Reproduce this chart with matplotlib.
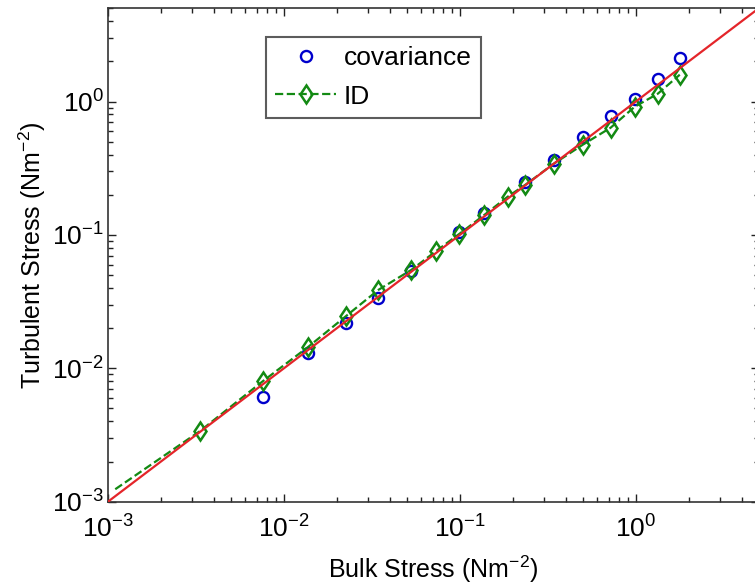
import matplotlib
matplotlib.use("Agg")
import matplotlib.pyplot as plt

plt.rcParams['font.family'] = ['Liberation Sans', 'DejaVu Sans']
plt.rcParams['mathtext.default'] = 'regular'

# covariance estimates (blue circles)
cov_x = [0.0076, 0.0137, 0.0226, 0.0344, 0.053, 0.0995, 0.138, 0.236, 0.341,
         0.499, 0.719, 0.986, 1.333, 1.778]
cov_y = [0.0061, 0.01305, 0.0219, 0.0337, 0.0538, 0.1054, 0.1466, 0.250, 0.366,
         0.545, 0.782, 1.05, 1.48, 2.13]

# ID estimates (green dashed with diamonds); first point has no marker
id_x = [0.0011, 0.00334, 0.00762, 0.01374, 0.0226, 0.0344, 0.053, 0.0736, 0.0995,
        0.138, 0.1866, 0.236, 0.341, 0.499, 0.719, 0.986, 1.333, 1.778]
id_y = [0.00124, 0.00339, 0.00804, 0.01447, 0.0247, 0.0387, 0.0547, 0.076, 0.102,
        0.1415, 0.193, 0.238, 0.341, 0.474, 0.636, 0.914, 1.144, 1.589]

# 1:1 reference line
ref_x = [1e-3, 5]
ref_y = [1e-3, 5]

fig = plt.figure(figsize=(7.55, 5.85), dpi=100)
ax = fig.add_axes([0.143, 0.1424, 0.862, 0.8434])

ax.plot(cov_x, cov_y, 'o', color='#0000cc', mfc='none', ms=8, mew=1.7,
        label='covariance', zorder=2)
ax.plot(id_x, id_y, '--', color='#138a13', lw=1.6, marker='d', mfc='none',
        ms=9.5, mew=1.8, markevery=list(range(1, len(id_x))), label='ID', zorder=3)
ax.plot(ref_x, ref_y, '-', color='#e4252a', lw=1.6, zorder=4)

ax.set_xscale('log')
ax.set_yscale('log')
ax.set_xlim(1e-3, 5)
ax.set_ylim(1e-3, 5)

ax.tick_params(which='both', direction='in', top=True, right=True,
               colors='#222222', labelcolor='black')
ax.tick_params(which='major', length=6, width=1, labelsize=19)
ax.tick_params(which='minor', length=3.5, width=1)
ax.tick_params(axis='x', which='major', pad=10)
ax.tick_params(axis='y', which='major', pad=3)
for s in ax.spines.values():
    s.set_color('#333333')
    s.set_linewidth(1.2)

ax.set_xlabel('Bulk Stress (Nm$^{-2}$)', fontsize=18, labelpad=8)
ax.set_ylabel('Turbulent Stress (Nm$^{-2}$)', fontsize=18, labelpad=3)

leg = ax.legend(loc='upper left', bbox_to_anchor=(0.243, 0.942), borderaxespad=0,
                fontsize=19, frameon=True, fancybox=False, handlelength=2.3,
                handletextpad=0.3, labelspacing=0.55, borderpad=0.35)
leg.get_frame().set_edgecolor('#333333')
leg.get_frame().set_linewidth(1.5)

fig.savefig('out.png', dpi=100)
